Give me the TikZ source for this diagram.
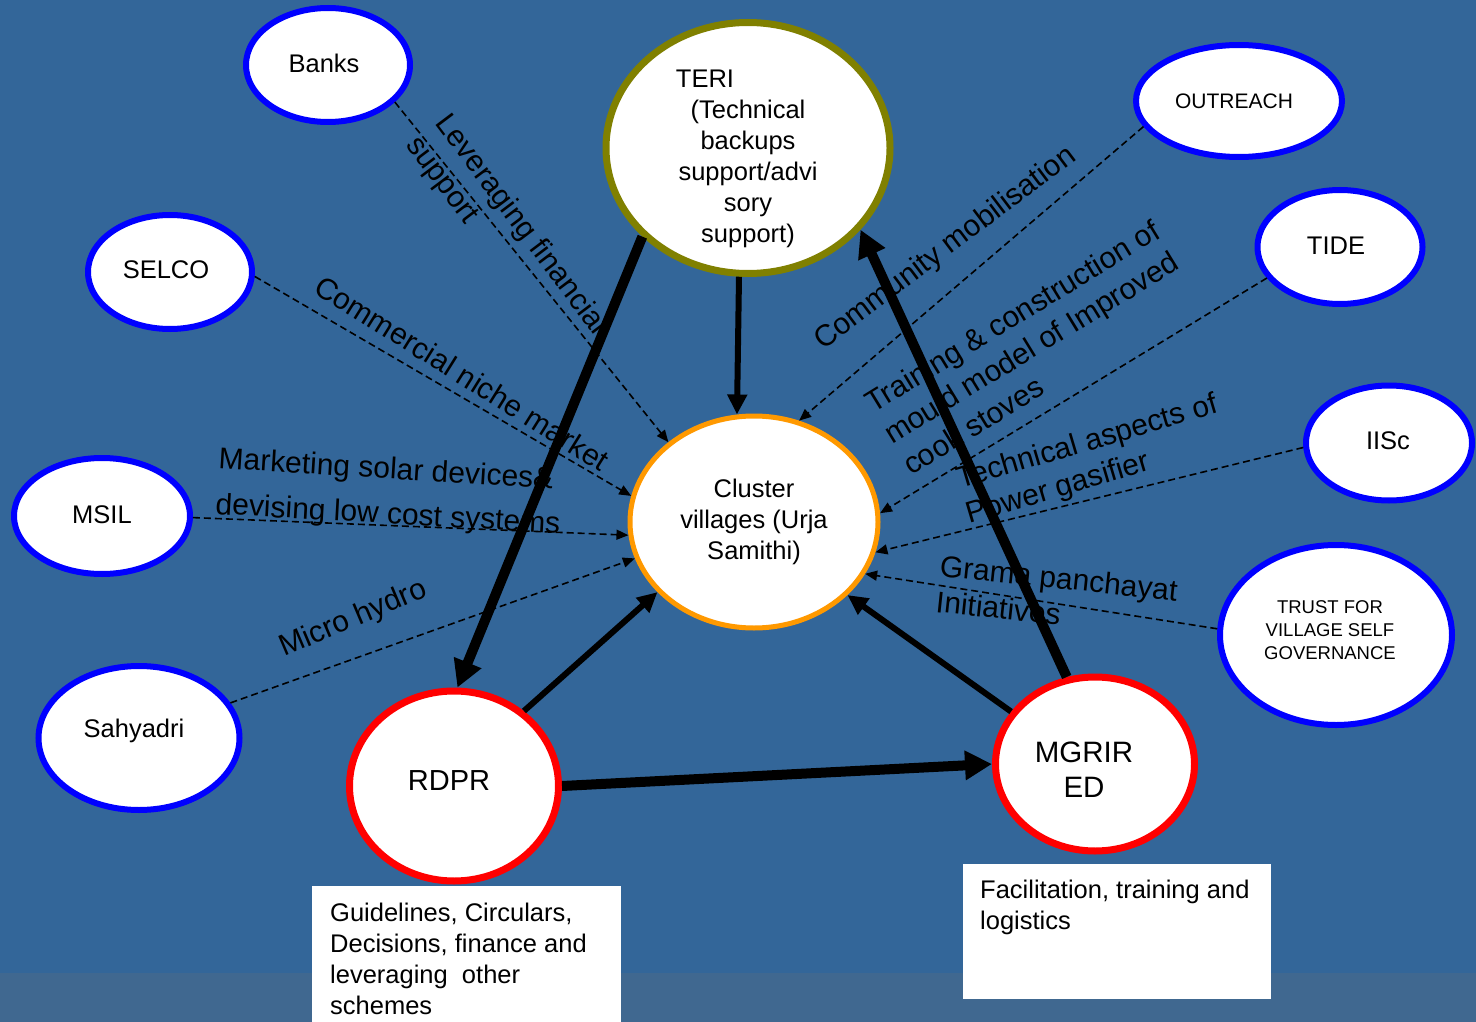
\documentclass[tikz,border=0pt]{standalone}
\usepackage{fontspec}
\setmainfont{Liberation Sans}
\usetikzlibrary{shapes.geometric,arrows.meta}
\definecolor{bgblue}{RGB}{51,102,153}
\definecolor{bgstrip}{RGB}{64,104,144}
\definecolor{teriolive}{RGB}{128,128,0}
\definecolor{clorange}{RGB}{255,153,0}
\tikzset{
  org/.style={ellipse, draw=blue, line width=6pt, fill=white, inner sep=0pt},
  etext/.style={font=\fontsize{25.5}{31}\selectfont, align=center, inner sep=0pt, text=black},
  lbl/.style={font=\fontsize{30}{36}\selectfont, inner sep=0pt, anchor=base west, text=black},
  dline/.style={draw=black, line width=1.6pt, dash pattern=on 7pt off 4pt, -{Triangle[length=12pt,width=10pt]}},
  bigarrow/.style={draw=black, line width=10pt, -{Triangle[length=27pt,width=28pt]}},
  medarrow/.style={draw=black, line width=6pt, -{Triangle[length=20pt,width=19pt]}},
  infobox/.style={fill=white, draw=none, inner sep=0pt, anchor=north west},
  boxtext/.style={font=\fontsize{25.5}{31}\selectfont, align=left, inner sep=0pt, anchor=north west, text=black}
}
\begin{document}
\begin{tikzpicture}[x=1pt,y=-1pt]
\useasboundingbox (0,0) rectangle (1476,1022);
\fill[bgblue] (0,0) rectangle (1476,1022);
\fill[bgstrip] (0,973) rectangle (1476,1022);

% ellipses
\node[org, minimum width=164, minimum height=114] (banks) at (328,65) {};
\node[org, minimum width=164, minimum height=114] (selco) at (170,272) {};
\node[org, minimum width=176, minimum height=116] (msil) at (102,516) {};
\node[org, minimum width=201, minimum height=144] (sahyadri) at (139,738) {};
\node[org, minimum width=206, minimum height=112] (outreach) at (1239,101) {};
\node[org, minimum width=165, minimum height=114] (tide) at (1340,247) {};
\node[org, minimum width=166, minimum height=115] (iisc) at (1389,443) {};
\node[org, minimum width=232, minimum height=180] (trust) at (1336,635) {};
\node[org, draw=teriolive, line width=7pt, minimum width=284, minimum height=251] (teri) at (748,148) {};
\node[org, draw=clorange, line width=5pt, minimum width=248, minimum height=212] (cluster) at (754,522) {};
\node[org, draw=red, line width=7pt, minimum width=209, minimum height=190] (rdpr) at (454,786) {};
\node[org, draw=red, line width=7pt, minimum width=199, minimum height=174] (mgrired) at (1095,764) {};

% ellipse texts
\node[etext] (banks-t) at (324,63) {Banks};
\node[etext] (selco-t) at (166,270) {SELCO};
\node[etext] (msil-t) at (102,515) {MSIL};
\node[etext] (sahyadri-t) at (134,731) {Sahyadri};
\node[etext, font=\fontsize{21}{25}\selectfont] (outreach-t) at (1234,101) {OUTREACH};
\node[etext] (tide-t) at (1336,246) {TIDE};
\node[etext] (iisc-t) at (1388,441) {IISc};
\node[etext, font=\fontsize{18.5}{23}\selectfont] (trust-t) at (1330,630) {TRUST FOR\\VILLAGE SELF\\GOVERNANCE};
\node[etext] (teri-t) at (748,159) {TERI\hspace*{86pt}\\(Technical\\backups\\support/advi\\sory\\support)};
\node[etext] (cluster-t) at (754,522) {Cluster\\villages (Urja\\Samithi)};
\node[etext, font=\fontsize{29}{35}\selectfont] (rdpr-t) at (449,781) {RDPR};
\node[etext, font=\fontsize{29.5}{35}\selectfont] (mgrired-t) at (1084,770) {MGRIR\\ED};

% info boxes
\node[infobox, minimum width=309, minimum height=140] (rdprbox) at (312,886) {};
\node[boxtext] (rdprbox-t) at (330,902.5) {Guidelines, Circulars,\\Decisions, finance and\\leveraging\ \ other\\schemes};
\node[infobox, minimum width=308, minimum height=135] (mgrbox) at (963,864) {};
\node[boxtext] (mgrbox-t) at (980,879.5) {Facilitation, training and\\logistics};

% connector labels
\node[lbl, rotate=-53] (lev1) at (434,123) {Leveraging financial};
\node[lbl, rotate=-53] (lev2) at (405,145) {support};
\node[lbl, rotate=-32] (comm) at (312,292) {Commercial niche market};
\node[lbl, rotate=-3.6] (mkt1) at (218,468) {Marketing solar devices\&};
\node[lbl, rotate=-3.2] (mkt2) at (215,514) {devising low cost systems};
\node[lbl, rotate=23] (micro) at (284,657) {Micro hydro};
\node[lbl, rotate=37] (cmob) at (823,351) {Community mobilisation};
\node[lbl, rotate=31.5] (tr1) at (873,414) {Training \& construction of};
\node[lbl, rotate=31.5] (tr2) at (892,445) {mould model of Improved};
\node[lbl, rotate=31.5] (tr3) at (911,476) {cook stoves};
\node[lbl, rotate=16.5] (tech1) at (960,489) {Technical aspects of};
\node[lbl, rotate=16.5] (tech2) at (969,524) {Power gasifier};
\node[lbl, rotate=-6] (gp1) at (939,576) {Grama panchayat};
\node[lbl, rotate=-6] (gp2) at (935,612) {Initiatives};

% dashed connectors
\draw[dline] (banks.-29) -- (cluster.137);
\draw[dline] (selco.-3) -- (cluster.168);
\draw[dline] (msil.-1) -- (cluster.186);
\draw[dline] (sahyadri.21) -- (cluster.197);
\draw[dline] (outreach.195) -- (cluster.66);
\draw[dline] (tide.203) -- (cluster.4);
\draw[dline] (iisc.183) -- (cluster.-14);
\draw[dline] (trust.177) -- (cluster.-25);

% solid connectors
\draw[bigarrow] (teri.220) -- (rdpr.88);
\draw[bigarrow] (mgrired.108) -- (teri.-36);
\draw[bigarrow] (rdpr.0) -- (mgrired.180);
\draw[medarrow] (teri.266) -- (cluster.99);
\draw[medarrow] (rdpr.47) -- (cluster.216);
\draw[medarrow] (mgrired.148) -- (cluster.-38);
\end{tikzpicture}
\end{document}
